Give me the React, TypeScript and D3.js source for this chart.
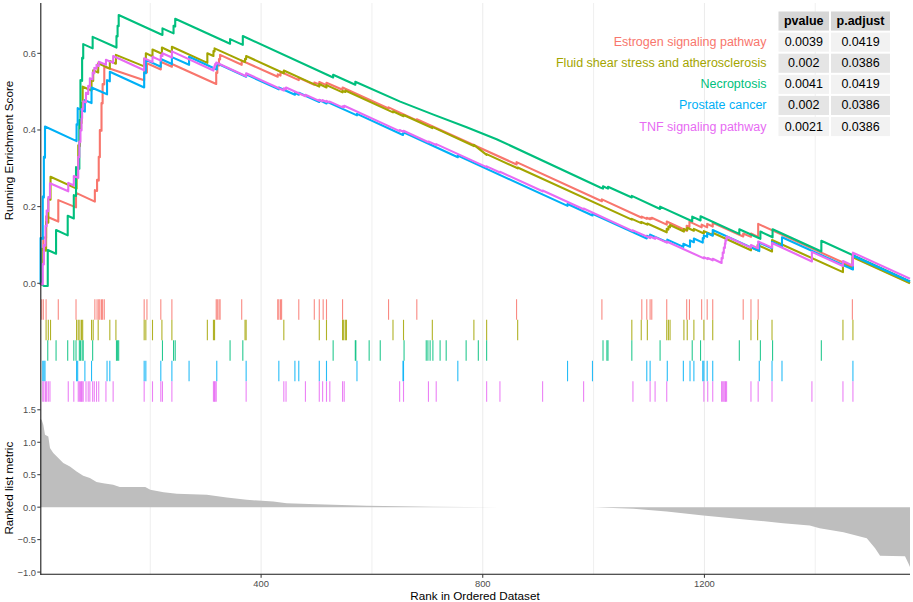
import React from 'react';
import * as d3 from 'd3';

const W = 913;
const H = 602;

// ---------- data ----------
const seriesNames = [
  'Estrogen signaling pathway',
  'Fluid shear stress and atherosclerosis',
  'Necroptosis',
  'Prostate cancer',
  'TNF signaling pathway',
];
const seriesColors = ['#F8766D', '#A3A500', '#00BF7D', '#00B0F6', '#E76BF3'];
const pValues = ['0.0039', '0.002', '0.0041', '0.002', '0.0021'];
const pAdjust = ['0.0419', '0.0386', '0.0419', '0.0386', '0.0386'];
const tableHeader = ['pvalue', 'p.adjust'];

const rankMax = 1571;
const xTicks = [400, 800, 1200];
const xMinorTicks = [200, 600, 1000, 1400];
const esTicks = [0, 0.2, 0.4, 0.6];
const metricTicks = [-1, -0.5, 0, 0.5, 1, 1.5];

// running enrichment score vertices [rank, score]
const estrogenES = [[1,0],[4,-0.002],[4,0.06],[7,0.058],[7,0.12],[12,0.118],[12,0.175],[34,0.161],[34,0.217],[66,0.198],[66,0.236],[100,0.213],[100,0.243],[104,0.241],[104,0.27],[107,0.268],[107,0.33],[109,0.329],[109,0.40],[112,0.398],[112,0.47],[114,0.469],[114,0.52],[117,0.519],[117,0.565],[189,0.53],[189,0.552],[194,0.55],[194,0.574],[219,0.558],[219,0.578],[239,0.565],[239,0.572],[319,0.52],[319,0.55],[321,0.549],[321,0.57],[324,0.568],[324,0.585],[326,0.584],[326,0.596],[365,0.57],[365,0.581],[430,0.539],[430,0.545],[435,0.542],[435,0.552],[468,0.53],[468,0.536],[496,0.518],[496,0.524],[505,0.519],[505,0.525],[518,0.517],[518,0.523],[547,0.505],[547,0.511],[630,0.456],[630,0.459],[681,0.425],[681,0.428],[861,0.31],[861,0.316],[1015,0.214],[1015,0.219],[1087,0.171],[1087,0.174],[1096,0.168],[1096,0.171],[1102,0.167],[1102,0.17],[1105,0.168],[1105,0.171],[1132,0.153],[1132,0.161],[1168,0.137],[1168,0.15],[1173,0.147],[1173,0.161],[1195,0.146],[1195,0.153],[1205,0.146],[1205,0.155],[1215,0.148],[1215,0.158],[1270,0.122],[1270,0.13],[1284,0.121],[1284,0.13],[1297,0.121],[1297,0.155],[1467,0.043],[1467,0.07],[1571,0.001]];
const fluidES = [[1,0],[4,0],[4,0.09],[12,0.085],[12,0.16],[16,0.158],[16,0.22],[20,0.218],[20,0.278],[67,0.247],[67,0.30],[70,0.298],[70,0.36],[73,0.358],[73,0.42],[76,0.418],[76,0.47],[78,0.469],[78,0.513],[94,0.503],[94,0.53],[97,0.528],[97,0.556],[106,0.55],[106,0.574],[127,0.56],[127,0.58],[138,0.573],[138,0.596],[189,0.566],[189,0.585],[192,0.583],[192,0.6],[204,0.592],[204,0.61],[221,0.599],[221,0.615],[239,0.603],[239,0.617],[303,0.575],[303,0.6],[314,0.593],[314,0.606],[316,0.605],[316,0.613],[371,0.577],[371,0.586],[373,0.585],[373,0.593],[441,0.548],[441,0.555],[505,0.513],[505,0.52],[518,0.511],[518,0.517],[547,0.498],[547,0.502],[552,0.499],[552,0.503],[638,0.446],[638,0.449],[657,0.436],[657,0.439],[709,0.405],[709,0.408],[784,0.358],[784,0.361],[807,0.335],[807,0.337],[863,0.3],[863,0.302],[1069,0.166],[1069,0.168],[1086,0.157],[1086,0.16],[1097,0.153],[1097,0.156],[1132,0.133],[1132,0.142],[1135,0.14],[1135,0.148],[1138,0.146],[1138,0.152],[1163,0.135],[1163,0.142],[1169,0.138],[1169,0.145],[1181,0.137],[1181,0.142],[1199,0.13],[1199,0.136],[1215,0.126],[1215,0.132],[1284,0.086],[1284,0.094],[1296,0.086],[1296,0.1],[1322,0.083],[1322,0.113],[1450,0.029],[1450,0.05],[1468,0.038],[1468,0.068],[1571,0.0]];
const necroES = [[1,0],[8,-0.007],[15,-0.007],[15,0.087],[30,0.077],[30,0.139],[51,0.125],[51,0.176],[62,0.169],[62,0.23],[66,0.228],[66,0.303],[72,0.299],[72,0.426],[74,0.425],[74,0.53],[77,0.528],[77,0.588],[79,0.587],[79,0.624],[96,0.613],[96,0.643],[139,0.615],[139,0.645],[141,0.644],[141,0.672],[143,0.671],[143,0.70],[222,0.648],[222,0.665],[242,0.652],[242,0.672],[245,0.67],[245,0.69],[344,0.625],[344,0.637],[367,0.622],[367,0.645],[530,0.537],[530,0.544],[570,0.518],[570,0.526],[651,0.474],[711,0.44],[771,0.407],[825,0.376],[1012,0.25],[1017,0.247],[1017,0.253],[1026,0.247],[1026,0.252],[1069,0.224],[1069,0.228],[1120,0.194],[1120,0.2],[1178,0.162],[1178,0.174],[1193,0.164],[1193,0.175],[1263,0.129],[1263,0.141],[1301,0.116],[1301,0.135],[1323,0.12],[1323,0.141],[1411,0.083],[1411,0.111],[1571,0.005]];
const prostateES = [[1,0],[2,0],[2,0.118],[6,0.116],[6,0.226],[8,0.224],[8,0.33],[10,0.328],[10,0.409],[67,0.371],[67,0.415],[69,0.414],[69,0.457],[82,0.448],[82,0.478],[94,0.47],[94,0.511],[122,0.493],[122,0.53],[127,0.527],[127,0.552],[189,0.511],[189,0.55],[192,0.548],[192,0.583],[219,0.565],[219,0.585],[239,0.572],[239,0.59],[270,0.57],[270,0.591],[320,0.558],[320,0.574],[373,0.539],[373,0.545],[432,0.506],[432,0.511],[461,0.492],[461,0.497],[468,0.492],[468,0.497],[505,0.473],[505,0.478],[518,0.469],[518,0.474],[573,0.438],[573,0.442],[656,0.387],[656,0.39],[657,0.39],[657,0.394],[755,0.329],[755,0.333],[953,0.202],[953,0.207],[998,0.177],[998,0.181],[1096,0.117],[1096,0.124],[1102,0.12],[1102,0.127],[1133,0.107],[1133,0.114],[1162,0.095],[1162,0.103],[1174,0.095],[1174,0.112],[1181,0.107],[1181,0.117],[1197,0.106],[1197,0.118],[1199,0.117],[1199,0.125],[1205,0.121],[1205,0.131],[1215,0.124],[1215,0.139],[1299,0.084],[1299,0.106],[1322,0.091],[1322,0.108],[1340,0.096],[1340,0.12],[1468,0.036],[1468,0.072],[1571,0.004]];
const tnfES = [[1,0],[6,-0.003],[6,0.05],[8,0.049],[8,0.1],[11,0.098],[11,0.15],[13,0.149],[13,0.19],[16,0.188],[16,0.225],[19,0.223],[19,0.261],[52,0.24],[52,0.262],[62,0.255],[62,0.28],[70,0.275],[70,0.33],[72,0.329],[72,0.37],[74,0.369],[74,0.40],[76,0.399],[76,0.43],[77,0.43],[77,0.455],[79,0.454],[79,0.475],[84,0.472],[84,0.497],[88,0.494],[88,0.515],[91,0.513],[91,0.535],[96,0.532],[96,0.55],[99,0.548],[99,0.562],[103,0.56],[103,0.57],[107,0.567],[107,0.578],[120,0.57],[120,0.583],[133,0.575],[133,0.593],[189,0.556],[189,0.587],[204,0.577],[204,0.591],[219,0.581],[219,0.595],[222,0.593],[222,0.6],[239,0.589],[239,0.605],[314,0.555],[314,0.562],[316,0.561],[316,0.568],[317,0.567],[317,0.572],[319,0.571],[319,0.576],[373,0.54],[373,0.548],[441,0.503],[441,0.509],[445,0.506],[445,0.511],[480,0.488],[480,0.492],[505,0.476],[505,0.479],[511,0.475],[511,0.478],[518,0.473],[518,0.476],[524,0.472],[524,0.474],[547,0.459],[547,0.462],[550,0.46],[550,0.463],[650,0.397],[650,0.4],[657,0.395],[657,0.398],[702,0.368],[702,0.37],[716,0.361],[716,0.363],[807,0.303],[807,0.305],[831,0.289],[831,0.291],[908,0.24],[908,0.242],[982,0.193],[982,0.195],[1071,0.136],[1071,0.138],[1102,0.118],[1102,0.122],[1111,0.116],[1111,0.12],[1132,0.106],[1132,0.109],[1199,0.065],[1199,0.068],[1206,0.063],[1206,0.066],[1215,0.06],[1215,0.064],[1231,0.053],[1231,0.066],[1233,0.065],[1233,0.08],[1235,0.079],[1235,0.093],[1237,0.092],[1237,0.104],[1238,0.103],[1238,0.113],[1240,0.112],[1240,0.122],[1284,0.093],[1284,0.1],[1297,0.091],[1297,0.109],[1322,0.093],[1322,0.105],[1394,0.057],[1394,0.082],[1450,0.045],[1450,0.058],[1468,0.046],[1468,0.08],[1571,0.012]];

// gene-set hit positions (rug)
const estrogenHits = [4,7,12,34,66,100,104,107,109,112,114,117,189,194,219,239,319,321,324,326,365,430,432,435,437,468,496,505,512,518,547,630,681,861,1015,1087,1096,1102,1105,1132,1168,1173,1195,1205,1215,1270,1284,1297,1467];
const fluidHits = [12,16,20,67,70,73,76,78,94,97,106,127,138,189,192,204,221,239,303,314,316,371,373,441,505,518,547,549,552,554,638,657,709,784,807,863,1069,1086,1097,1132,1135,1138,1163,1169,1181,1199,1215,1284,1296,1322,1450,1468];
const necroHits = [15,30,51,62,66,72,74,77,79,96,139,141,143,222,242,245,344,367,530,570,571,595,615,658,698,701,705,710,723,734,770,792,807,1017,1024,1026,1069,1120,1178,1193,1263,1301,1323,1411];
const prostateHits = [6,8,10,67,69,82,94,122,127,189,192,219,239,270,320,373,432,461,468,505,518,573,656,657,755,953,998,1096,1102,1133,1162,1174,1181,1197,1199,1205,1215,1299,1322,1340,1468];
const tnfHits = [6,8,11,13,16,19,52,62,70,72,74,76,77,79,84,88,91,96,99,103,107,120,133,189,204,219,222,239,314,316,317,319,373,441,445,480,505,511,518,524,547,550,650,657,702,716,807,831,908,982,1071,1102,1111,1132,1199,1206,1215,1231,1233,1235,1237,1238,1240,1284,1297,1322,1394,1450,1468];

// ranked list metric
const metricRanks = [1,4,7,10,16,19,25,34,43,55,67,79,91,103,115,133,145,191,200,224,248,302,338,374,422,446,500,591,711,830,999,1072,1132,1198,1282,1342,1390,1408,1451,1493,1508,1517,1562,1568,1571];
const metricValues = [1.36,1.347,1.27,1.116,1.09,0.91,0.833,0.756,0.679,0.627,0.549,0.483,0.448,0.386,0.37,0.344,0.309,0.309,0.267,0.231,0.205,0.19,0.148,0.113,0.086,0.062,0.046,0.02,0.005,0.0,0.0,-0.026,-0.068,-0.13,-0.196,-0.247,-0.284,-0.324,-0.386,-0.478,-0.633,-0.747,-0.756,-0.864,-0.92];

const esSeries = [estrogenES, fluidES, necroES, prostateES, tnfES];
const hitSeries = [estrogenHits, fluidHits, necroHits, prostateHits, tnfHits];

// ---------- layout ----------
const FONT = '"Liberation Sans", Arial, Helvetica, sans-serif';
const panelLeft = 40;
const panelRight = 910;
const topPanel = { top: 3, bottom: 298 };
const rugPanel = { top: 299.3, rowH: 20.5 };
const botPanel = { top: 402, bottom: 574.3 };

export default function App() {
  const x = d3.scaleLinear().domain([1, rankMax]).range([panelLeft, panelRight]);
  const yES = d3.scaleLinear().domain([-0.0384, 0.7313]).range([topPanel.bottom, topPanel.top]);
  const yM = d3.scaleLinear().domain([-1.034, 1.62]).range([botPanel.bottom, botPanel.top]);

  const line = d3.line<number[]>().x((d) => x(d[0])).y((d) => yES(d[1]));
  const metricData = metricRanks.map((r, i) => [r, metricValues[i]]);
  const area = d3.area<number[]>().x((d) => x(d[0])).y0(yM(0)).y1((d) => yM(d[1]));
  const fmt = d3.format('.1f');

  const axisX = 40.8;
  const tableTop = 10.5;
  const rowH = 21.1;
  const colEdges = [777.5, 830, 891];
  const labelRight = 766.5;

  return (
    <svg width={W} height={H} style={{ position: 'absolute', left: 0, top: 0, background: '#fff' }} fontFamily={FONT}>
      <rect x={0} y={0} width={W} height={H} fill="#fff" />
      {/* grid lines */}
      {xMinorTicks.map((t) => (
        <line key={'mg' + t} x1={x(t)} x2={x(t)} y1={topPanel.top} y2={botPanel.bottom} stroke="#EBEBEB" strokeWidth={0.8} />
      ))}
      {xTicks.map((t) => (
        <line key={'g' + t} x1={x(t)} x2={x(t)} y1={topPanel.top} y2={botPanel.bottom} stroke="#EBEBEB" strokeWidth={1} />
      ))}

      {/* ranked list metric */}
      <path d={area(metricData) || ''} fill="#BEBEBE" />

      {/* rug */}
      {hitSeries.map((hits, i) =>
        hits.map((h, j) => (
          <line
            key={'r' + i + '-' + j}
            x1={x(h)}
            x2={x(h)}
            y1={rugPanel.top + i * rugPanel.rowH}
            y2={rugPanel.top + (i + 1) * rugPanel.rowH}
            stroke={seriesColors[i]}
            strokeWidth={1.1}
            strokeOpacity={0.85}
          />
        ))
      )}

      {/* running ES lines */}
      {esSeries.map((s, i) => (
        <path key={'l' + i} d={line(s) || ''} fill="none" stroke={seriesColors[i]} strokeWidth={2.1} strokeLinejoin="round" />
      ))}

      {/* axes lines */}
      <line x1={axisX} x2={axisX} y1={topPanel.top} y2={botPanel.bottom + 0.5} stroke="#1a1a1a" strokeWidth={1.1} />
      <line x1={axisX - 0.5} x2={panelRight} y1={botPanel.bottom} y2={botPanel.bottom} stroke="#1a1a1a" strokeWidth={1.1} />

      {/* top y ticks */}
      {esTicks.map((t) => (
        <g key={'et' + t}>
          <line x1={axisX - 3.5} x2={axisX} y1={yES(t)} y2={yES(t)} stroke="#333" strokeWidth={1} />
          <text x={36} y={yES(t)} textAnchor="end" dominantBaseline="central" fontSize={9.4} fill="#4D4D4D">
            {fmt(t)}
          </text>
        </g>
      ))}
      {/* bottom y ticks */}
      {metricTicks.map((t) => (
        <g key={'mt' + t}>
          <line x1={axisX - 3.5} x2={axisX} y1={yM(t)} y2={yM(t)} stroke="#333" strokeWidth={1} />
          <text x={36} y={yM(t)} textAnchor="end" dominantBaseline="central" fontSize={9.4} fill="#4D4D4D">
            {fmt(t)}
          </text>
        </g>
      ))}
      {/* x ticks */}
      {xTicks.map((t) => (
        <g key={'xt' + t}>
          <line x1={x(t)} x2={x(t)} y1={botPanel.bottom} y2={botPanel.bottom + 3.5} stroke="#333" strokeWidth={1} />
          <text x={x(t)} y={583} textAnchor="middle" dominantBaseline="central" fontSize={9.4} fill="#4D4D4D">
            {t}
          </text>
        </g>
      ))}

      {/* axis titles */}
      <text
        transform={`translate(8,${(topPanel.top + topPanel.bottom) / 2}) rotate(-90)`}
        textAnchor="middle"
        dominantBaseline="central"
        fontSize={11.7}
        fill="#000"
      >
        Running Enrichment Score
      </text>
      <text
        transform={`translate(8,${(botPanel.top + botPanel.bottom) / 2}) rotate(-90)`}
        textAnchor="middle"
        dominantBaseline="central"
        fontSize={11.7}
        fill="#000"
      >
        Ranked list metric
      </text>
      <text x={(panelLeft + panelRight) / 2} y={595} textAnchor="middle" dominantBaseline="central" fontSize={11.7} fill="#000">
        Rank in Ordered Dataset
      </text>

      {/* table */}
      {tableHeader.map((h, c) => (
        <g key={'th' + c}>
          <rect x={colEdges[c] + 1} y={tableTop + 1} width={colEdges[c + 1] - colEdges[c] - 2} height={rowH - 2} fill="#D6D6D6" />
          <text
            x={(colEdges[c] + colEdges[c + 1]) / 2}
            y={tableTop + rowH / 2}
            textAnchor="middle"
            dominantBaseline="central"
            fontSize={12.5}
            fontWeight="bold"
            fill="#000"
          >
            {h}
          </text>
        </g>
      ))}
      {seriesNames.map((name, i) => {
        const yTop = tableTop + (i + 1) * rowH;
        const fill = i % 2 === 0 ? '#F2F2F2' : '#E5E5E5';
        const vals = [pValues[i], pAdjust[i]];
        return (
          <g key={'tr' + i}>
            <text x={labelRight} y={yTop + rowH / 2} textAnchor="end" dominantBaseline="central" fontSize={12.5} fill={seriesColors[i]}>
              {name}
            </text>
            {vals.map((v, c) => (
              <g key={'tc' + c}>
                <rect x={colEdges[c] + 1} y={yTop + 1} width={colEdges[c + 1] - colEdges[c] - 2} height={rowH - 2} fill={fill} />
                <text
                  x={(colEdges[c] + colEdges[c + 1]) / 2}
                  y={yTop + rowH / 2}
                  textAnchor="middle"
                  dominantBaseline="central"
                  fontSize={12.5}
                  fill="#000"
                >
                  {v}
                </text>
              </g>
            ))}
          </g>
        );
      })}
    </svg>
  );
}
